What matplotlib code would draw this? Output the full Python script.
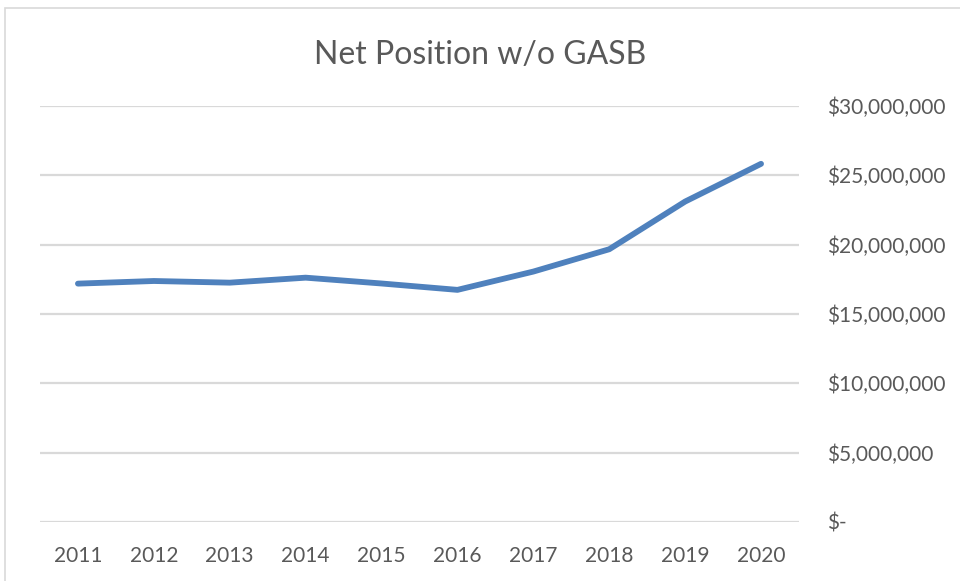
import matplotlib
matplotlib.use('Agg')
import matplotlib.pyplot as plt
from matplotlib.patches import Rectangle
from matplotlib.ticker import FuncFormatter

# data
years = ['2011', '2012', '2013', '2014', '2015', '2016', '2017', '2018', '2019', '2020']
net_position = [17190000, 17380000, 17260000, 17620000, 17200000, 16740000,
                18060000, 19670000, 23110000, 25830000]
y_ticks = [0, 5000000, 10000000, 15000000, 20000000, 25000000, 30000000]

text_col = '#595959'
grid_col = '#d9d9d9'
line_col = '#4f81bd'

plt.rcParams['font.family'] = ['Lato', 'DejaVu Sans']

fig = plt.figure(figsize=(9.6, 5.81), dpi=100)
ax = fig.add_axes([40 / 960, 1 - 522 / 581, 759 / 960, 416 / 581])

# outer chart border (cropped at right and bottom in the reference)
fig.patches.append(Rectangle((5 / 960, -0.1), 1.2, 1 - 8 / 581 + 0.1,
                             transform=fig.transFigure, fill=False,
                             edgecolor=grid_col, linewidth=1.2))

x = list(range(len(years)))
ax.plot(x, net_position, color=line_col, linewidth=4.2, solid_capstyle='round',
        solid_joinstyle='round', zorder=3)

ax.set_xlim(-0.5, len(years) - 0.5)
ax.set_ylim(0, 30000000)
ax.set_xticks(x)
ax.set_xticklabels(years)
ax.set_yticks(y_ticks)


def money(v, pos):
    if v == 0:
        return '$-'
    return '${:,.0f}'.format(v)


ax.yaxis.set_major_formatter(FuncFormatter(money))
ax.yaxis.tick_right()
ax.grid(axis='y', color=grid_col, linewidth=1.6)
ax.set_axisbelow(True)
for s in ax.spines.values():
    s.set_visible(False)
ax.tick_params(axis='both', length=0, labelsize=15, colors=text_col)
ax.tick_params(axis='x', pad=17)
ax.tick_params(axis='y', pad=20)

fig.text(0.5, 1 - 55 / 581, 'Net Position w/o GASB', ha='center', va='center',
         fontsize=23, color=text_col)

fig.savefig('out.png', dpi=100)
